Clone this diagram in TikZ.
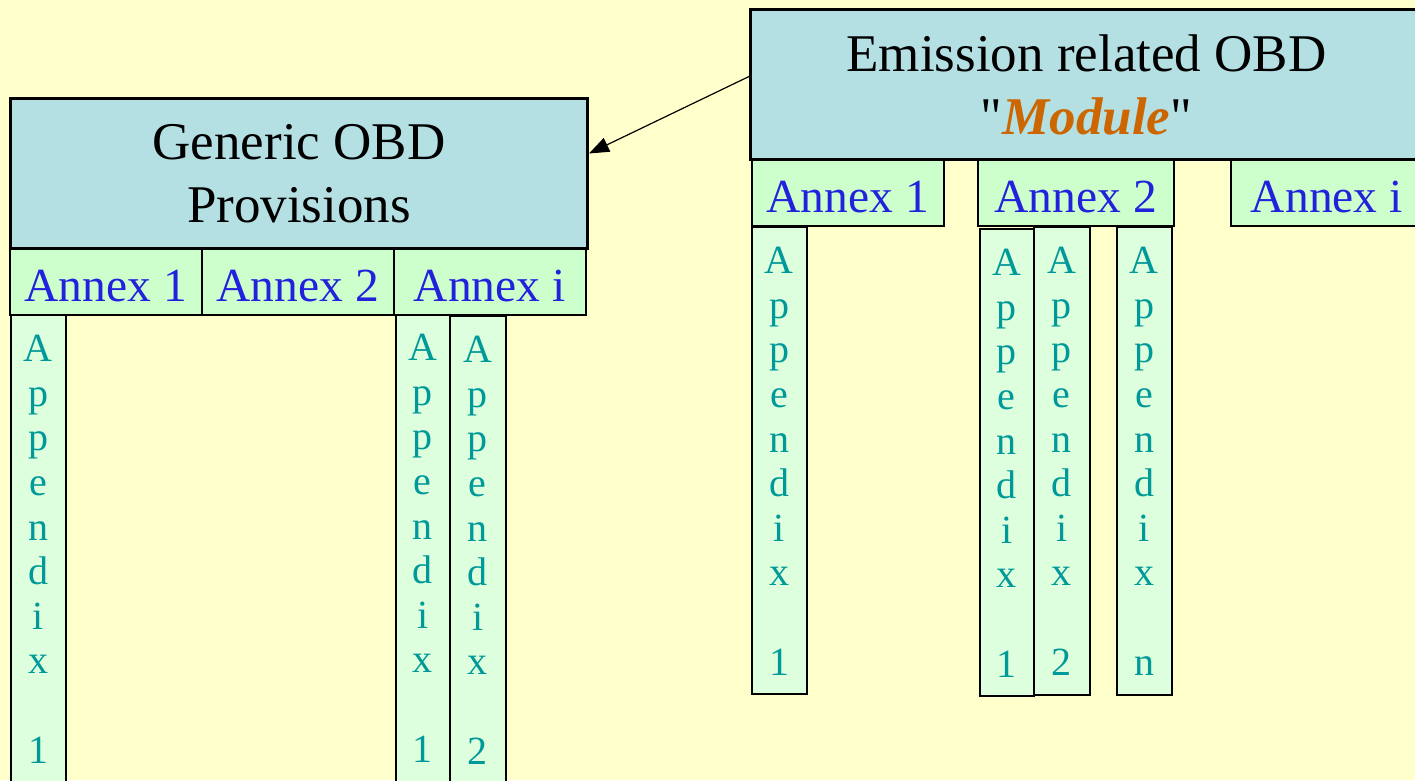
\documentclass[tikz,border=0pt]{standalone}
\usepackage{fontspec}
\setmainfont{Liberation Serif}
\usetikzlibrary{arrows.meta}

\definecolor{paper}{HTML}{FFFFCC}
\definecolor{headFill}{HTML}{B4E0E4}
\definecolor{annexFill}{HTML}{CCFFCC}
\definecolor{appFill}{HTML}{DDFFDD}
\definecolor{annexText}{HTML}{2222DD}
\definecolor{appText}{HTML}{009999}
\definecolor{moduleText}{HTML}{CC6600}

\newcommand\appLetters[1]{A\\p\\p\\e\\n\\d\\i\\x\\[44.6pt]#1}

\tikzset{
  header/.style={draw, line width=3pt, fill=headFill, anchor=north west,
    inner sep=0pt, align=center, font=\fontsize{53}{63}\selectfont},
  annex/.style={draw, line width=1.6pt, fill=annexFill, text=annexText,
    minimum height=67pt, anchor=north west, inner sep=0pt, text height=40pt,
    font=\fontsize{47.5}{50}\selectfont},
  appendix/.style={draw, line width=1.6pt, fill=appFill, anchor=north west,
    inner sep=0pt},
  appLabel/.style={anchor=north, text=appText, align=center, inner sep=0pt,
    font=\fontsize{40}{44.6}\selectfont},
}

\begin{document}
\begin{tikzpicture}[x=1pt,y=-1pt]
    \fill[paper] (0,0) rectangle (1415,780);
    \useasboundingbox (0,0) rectangle (1415,780);
    \clip (0,0) rectangle (1415,780);

    % appendix columns
    \foreach \name/\x/\y/\w/\h/\num in {
        gApp/10/314/55/500/1, giAppA/395/313/54/500/1, giAppB/449/315/56/500/2,
        eApp/751/226/55/467/1, e2AppA/979/228/54/467/1, e2AppB/1033/226/56/468/2,
        e2AppN/1116/226/55/468/n} {
      \node[appendix, minimum width=\w pt, minimum height=\h pt] (\name) at (\x,\y) {};
      \node[appLabel] at ([yshift=-21pt]\name.north) {\appLetters{\num}};
    }

    % annex rows
    \foreach \name/\x/\y/\w/\txt in {
        gAnx1/9/247/192/1, gAnx2/201/247/192/2, gAnxI/393/247/192/i,
        eAnx1/751/158/192/1, eAnx2/977/158/196/2, eAnxI/1230/158/192/i} {
      \node[annex, minimum width=\w pt] (\name) at (\x,\y) {Annex \txt};
    }

    % module headers
    \node[header, minimum width=577pt, minimum height=150pt] (generic) at (9,97)
      {Generic OBD\\Provisions};
    \node[header, minimum width=672pt, minimum height=150pt] (emission) at (749,8)
      {Emission related OBD\\\textquotedbl\textcolor{moduleText}{\textbf{\textit{Module}}}\textquotedbl};

    % link
    \draw[line width=1.2pt, -{Triangle[length=20pt,width=15pt]}]
      ([yshift=8pt]emission.west) -- ([yshift=20pt]generic.east);
\end{tikzpicture}
\end{document}
